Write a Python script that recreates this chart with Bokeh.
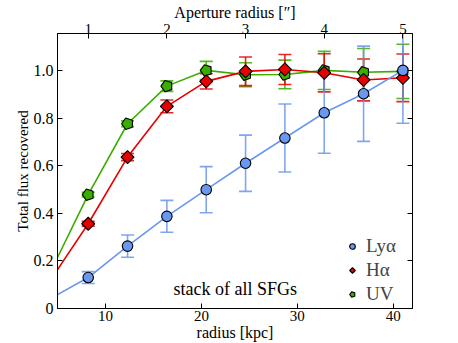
import numpy as np
from bokeh.plotting import figure
from bokeh.models import (Range1d, LinearAxis, FixedTicker, Whisker, TeeHead,
                          ColumnDataSource, Legend, LegendItem, Label, CustomJSTickFormatter)
from bokeh.embed import file_html
from bokeh.resources import INLINE

# ---- data ----
aperture_arcsec = [0.5, 1.0, 1.5, 2.0, 2.5, 3.0, 3.5, 4.0, 4.5, 5.0]
kpc_per_arcsec = 8.2
lya = [0.038, 0.130, 0.262, 0.387, 0.499, 0.610, 0.716, 0.822, 0.902, 1.000]
lya_err = [0.010, 0.025, 0.047, 0.067, 0.097, 0.118, 0.143, 0.170, 0.200, 0.222]
ha = [0.109, 0.356, 0.636, 0.849, 0.954, 0.996, 1.004, 0.990, 0.960, 0.969]
ha_err = [0.005, 0.010, 0.015, 0.027, 0.032, 0.060, 0.063, 0.080, 0.088, 0.100]
uv = [0.140, 0.478, 0.776, 0.934, 1.000, 0.982, 0.983, 1.000, 0.992, 0.996]
uv_err = [0.005, 0.010, 0.012, 0.022, 0.038, 0.050, 0.060, 0.080, 0.100, 0.114]
x_ticks = [10, 20, 30, 40]
x_tick_labels = ["10", "20", "30", "40"]
y_ticks = [0, 0.2, 0.4, 0.6, 0.8, 1.0]
y_tick_labels = ["0", "0.2", "0.4", "0.6", "0.8", "1.0"]
top_ticks = [1, 2, 3, 4, 5]

FONT = "'Liberation Serif', serif"
radius_kpc = np.array(aperture_arcsec) * kpc_per_arcsec

p = figure(width=458, height=343, output_backend="svg", toolbar_location=None,
           x_range=Range1d(5, 42), y_range=Range1d(0, 1.155),
           min_border_left=57, min_border_right=46, min_border_top=33,
           min_border_bottom=35)
p.xgrid.visible = False
p.ygrid.visible = False
p.outline_line_color = "black"
p.outline_line_width = 1
p.background_fill_color = "white"
p.border_fill_color = "white"

bottom = p.below[0]
left = p.left[0]

p.extra_x_ranges = {"arcsec": Range1d(5 / kpc_per_arcsec, 42 / kpc_per_arcsec)}
top = LinearAxis(x_range_name="arcsec", ticker=FixedTicker(ticks=top_ticks),
                 axis_label='Aperture radius [″]')
p.add_layout(top, "above")
right = LinearAxis(ticker=FixedTicker(ticks=y_ticks),
                   formatter=CustomJSTickFormatter(code="return ''"))
p.add_layout(right, "right")

bottom.ticker = FixedTicker(ticks=x_ticks)
bottom.axis_label = "radius [kpc]"
bottom.major_label_overrides = {t: s for t, s in zip(x_ticks, x_tick_labels)}
left.ticker = FixedTicker(ticks=y_ticks)
left.axis_label = "Total flux recovered"
left.major_label_overrides = {t: s for t, s in zip(y_ticks, y_tick_labels)}

for ax in [bottom, left, top, right]:
    ax.major_tick_in = 5
    ax.major_tick_out = 0
    ax.minor_tick_line_color = None
    ax.axis_line_color = "black"
    ax.major_tick_line_color = "black"
    ax.major_label_text_font = FONT
    ax.axis_label_text_font = FONT
    ax.axis_label_text_font_style = "normal"
    ax.major_label_text_color = "black"
    ax.axis_label_text_color = "black"
    ax.major_label_text_font_size = "15px"
    ax.axis_label_text_font_size = "15px"
left.major_label_text_font_size = "16px"
top.axis_label_text_font_size = "16px"
bottom.axis_label_text_font_size = "16px"
top.major_label_standoff = 0
top.axis_label_standoff = 0
right.major_label_standoff = 0
bottom.major_label_standoff = 2
bottom.axis_label_standoff = 0
left.major_label_standoff = 4
left.axis_label_standoff = 0

series = [
    ("UV", uv, uv_err, "#3aad00", "pent"),
    ("Hα", ha, ha_err, "#e60000", "diamond"),
    ("Lyα", lya, lya_err, "#6a97f0", "circle"),
]
items = {}
for name, vals, errs, col, mk in series:
    v = np.array(vals)
    e = np.array(errs)
    p.line(radius_kpc, v, line_color=col, line_width=1.6)
    src = ColumnDataSource(dict(x=radius_kpc[1:], y=v[1:],
                                lo=(v - e)[1:], hi=(v + e)[1:]))
    w = Whisker(source=src, base="x", lower="lo", upper="hi", dimension="height",
                line_color=col, line_width=1.6, line_alpha=0.85,
                upper_head=TeeHead(size=13, line_color=col, line_width=1.6, line_alpha=0.85),
                lower_head=TeeHead(size=13, line_color=col, line_width=1.6, line_alpha=0.85))
    p.add_layout(w)
    if mk == "pent":
        mr = p.ngon(x="x", y="y", radius=6, radius_units="screen", n=5,
                    angle=np.pi / 2, source=src, fill_color=col,
                    line_color="black", line_width=1.1)
    elif mk == "diamond":
        mr = p.ngon(x="x", y="y", radius=6.5, radius_units="screen", n=4,
                    angle=np.pi / 2, source=src, fill_color=col,
                    line_color="black", line_width=1.1)
    else:
        mr = p.scatter("x", "y", source=src, marker="circle", size=10.5,
                       fill_color=col, line_color="black", line_width=1.1)
    items[name] = mr

legend = Legend(items=[LegendItem(label="Lyα", renderers=[items["Lyα"]]),
                       LegendItem(label="Hα", renderers=[items["Hα"]]),
                       LegendItem(label="UV", renderers=[items["UV"]])],
                location=(288, 3))
legend.border_line_color = None
legend.background_fill_alpha = 0
legend.label_text_font = FONT
legend.label_text_font_size = "19px"
legend.glyph_width = 14
legend.glyph_height = 20
legend.label_height = 20
legend.spacing = 2
legend.padding = 2
legend.margin = 0
legend.label_standoff = 7
p.add_layout(legend)

p.add_layout(Label(x=17.1, y=0.08, text="stack of all SFGs", text_font=FONT,
                   text_font_size="18px", text_baseline="middle", text_color="black"))

open("out.html", "w").write(file_html(p, INLINE))
